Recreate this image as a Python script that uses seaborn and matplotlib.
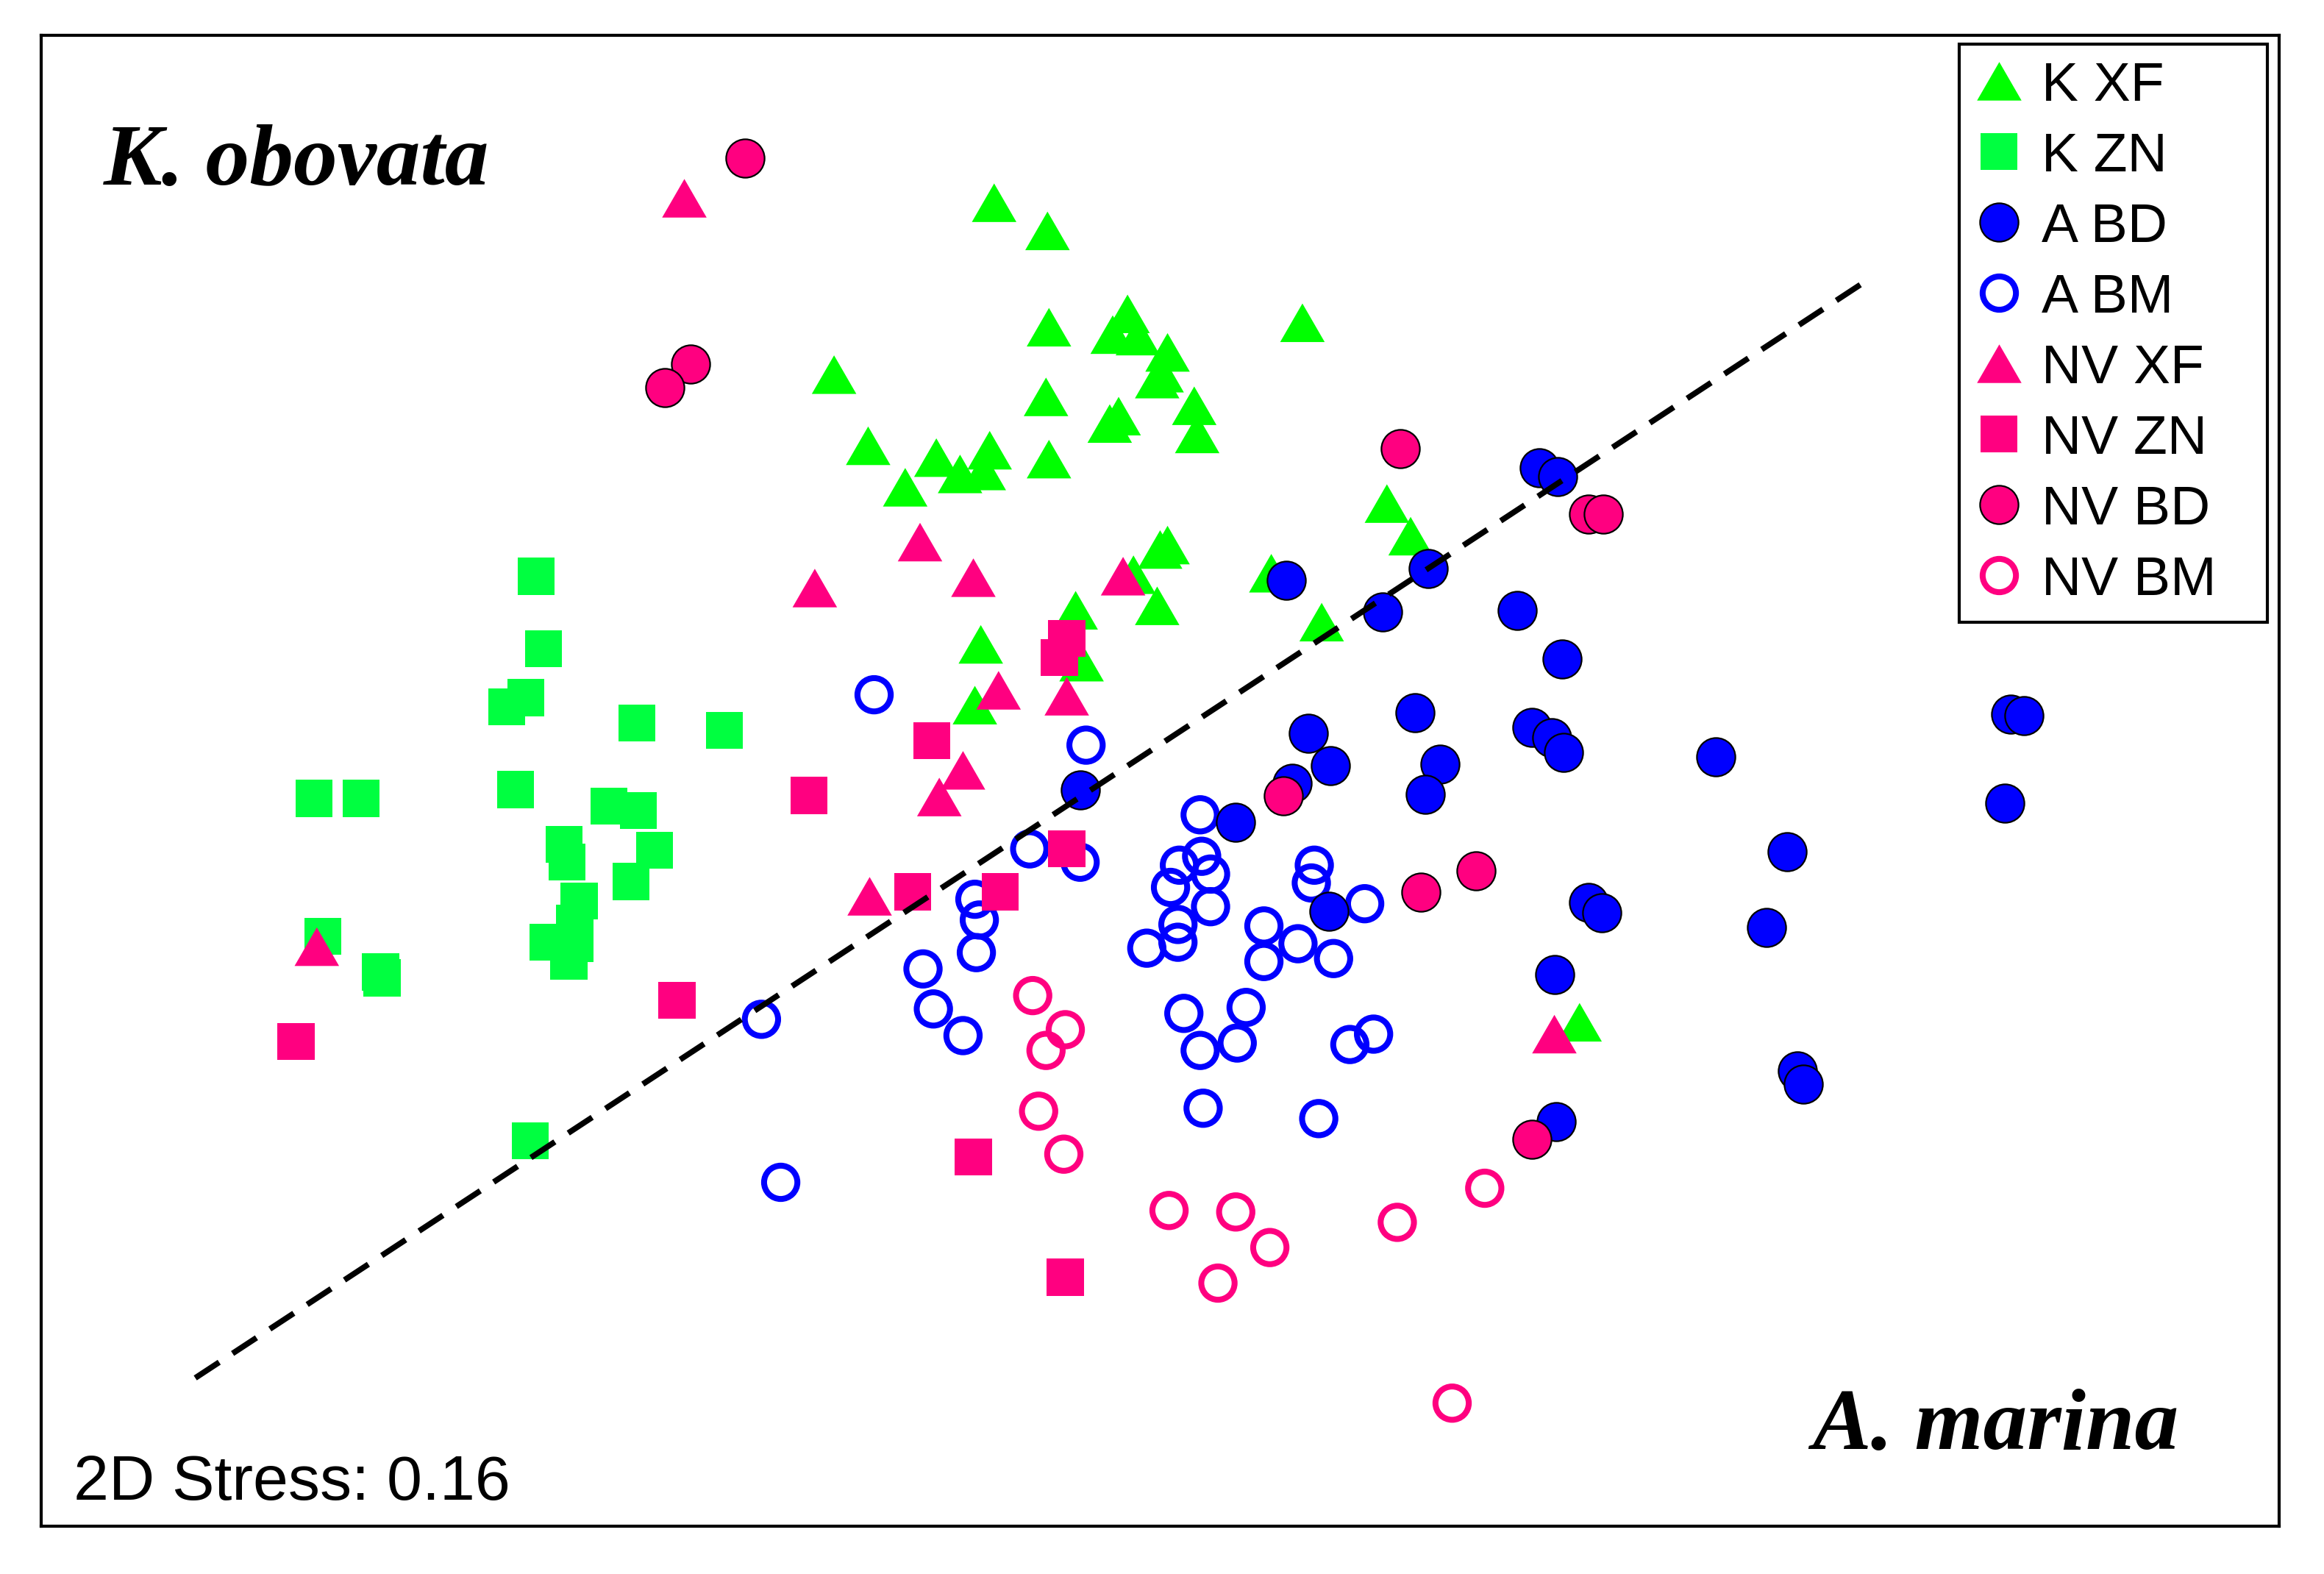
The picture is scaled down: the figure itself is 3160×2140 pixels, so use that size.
import numpy as np
import pandas as pd
import matplotlib
matplotlib.use('Agg')
import matplotlib.pyplot as plt
from matplotlib.lines import Line2D
import seaborn as sns

# NMDS coordinates (arbitrary units, axis 2 runs downwards)
kxf_x = [671, 707, 708, 761, 751, 768, 788, 781, 784, 879, 563, 706, 755, 749, 806, 808, 586, 632,
         648, 668, 664, 611, 708, 788, 783, 765, 781, 858, 726, 662, 730, 892, 936, 952, 1066, 658]
kxf_y = [137, 156, 221, 212, 226, 227, 238, 256, 252, 218, 253, 268, 281, 286, 274, 293, 301, 309,
         320, 304, 318, 329, 310, 368, 371, 388, 409, 387, 412, 435, 447, 420, 340, 362, 690, 476]

kzn_x = [362, 367, 342, 355, 430, 489, 212, 244, 348, 411, 431, 381, 383, 442, 426, 391, 388, 370,
         384, 388, 218, 257, 258, 358]
kzn_y = [389, 438, 477, 471, 488, 493, 539, 539, 533, 544, 547, 570, 582, 574, 595, 608, 623, 636,
         649, 637, 632, 656, 660, 770]

abd_x = [1039, 1051, 868, 964, 933, 1024, 1054, 955, 883, 898, 872, 972, 962, 1034, 1047, 1055,
         1158, 1357, 1366, 1353, 1206, 1072, 1081, 1192, 897, 1049, 1213, 1217, 1050, 834, 729]
abd_y = [316, 322, 392, 384, 413, 412, 445, 481, 495, 517, 529, 516, 536, 491, 498, 508,
         511, 482, 483, 542, 575, 609, 616, 626, 615, 658, 723, 732, 757, 555, 533]

abm_x = [590, 733, 695, 729, 810, 658, 661, 659, 623, 630, 650, 811, 796, 817, 790, 817, 795, 795,
         774, 887, 885, 921, 853, 876, 853, 900, 799, 841, 810, 835, 911, 927, 812, 890, 514, 527]
abm_y = [469, 503, 573, 582, 550, 607, 621, 643, 654, 681, 699, 578, 584, 590, 599, 612, 624, 636,
         640, 584, 596, 610, 625, 637, 649, 647, 684, 680, 709, 704, 705, 698, 748, 755, 688, 798]

nvxf_x = [462, 621, 657, 550, 758, 674, 720, 650, 634, 587, 214, 1049]
nvxf_y = [134, 366, 390, 397, 389, 466, 470, 520, 538, 605, 639, 698]

nvzn_x = [720, 715, 629, 546, 720, 675, 616, 457, 200, 657, 719]
nvzn_y = [431, 444, 500, 537, 573, 602, 602, 675, 703, 781, 862]

nvbd_x = [503, 466, 449, 945, 1072, 1082, 866, 959, 996, 1034]
nvbd_y = [107, 246, 262, 303, 347, 347, 537, 602, 588, 769]

nvbm_x = [697, 719, 706, 701, 718, 789, 834, 857, 822, 943, 1002, 980]
nvbm_y = [672, 695, 709, 750, 779, 817, 818, 842, 866, 825, 802, 947]

# separating line between the two species
split_x = [132, 1262]
split_y = [930, 188]

groups = ['K XF', 'K ZN', 'A BD', 'A BM', 'NV XF', 'NV ZN', 'NV BD', 'NV BM']
xs = [kxf_x, kzn_x, abd_x, abm_x, nvxf_x, nvzn_x, nvbd_x, nvbm_x]
ys = [kxf_y, kzn_y, abd_y, abm_y, nvxf_y, nvzn_y, nvbd_y, nvbm_y]

df = pd.concat([pd.DataFrame({'NMDS1': x, 'NMDS2': y, 'grupo': g})
                for g, x, y in zip(groups, xs, ys)], ignore_index=True)

GREEN = '#00FF00'
GREEN2 = '#00FF40'
BLUE = '#0000FF'
PINK = '#FF0080'
tri = [(-1, -0.866), (1, -0.866), (0, 0.866)]

# marker, size (pt), face, edge, edge width
estilos = {
    'K XF': (tri, 21.8, GREEN, 'none', 0),
    'K ZN': ('s', 18.1, GREEN2, 'none', 0),
    'A BD': ('o', 18.8, BLUE, 'black', 0.8),
    'A BM': ('o', 16.3, 'none', BLUE, 2.9),
    'NV XF': (tri, 21.8, PINK, 'none', 0),
    'NV ZN': ('s', 18.1, PINK, 'none', 0),
    'NV BD': ('o', 18.8, PINK, 'black', 0.8),
    'NV BM': ('o', 16.3, 'none', PINK, 2.9),
}

sns.set_style('white')
plt.rcParams['font.family'] = ['Liberation Sans', 'DejaVu Sans']
plt.rcParams['text.color'] = 'black'

fig = plt.figure(figsize=(15.8, 10.7), dpi=200)
ax = fig.add_axes([0.0177, 0.0304, 0.963, 0.9472])

# ordem de desenho: circulos abertos de A por baixo dos cheios
ordem = ['K XF', 'K ZN', 'A BM', 'A BD', 'NV XF', 'NV ZN', 'NV BD', 'NV BM']
for g in ordem:
    m, sz, fc, ec, lw = estilos[g]
    sub = df[df['grupo'] == g]
    sns.scatterplot(data=sub, x='NMDS1', y='NMDS2', marker=m, s=sz ** 2,
                    facecolor=fc, edgecolor=ec, linewidth=lw, ax=ax, legend=False, zorder=3)

ax.plot(split_x, split_y, color='black', linewidth=2.8, dashes=(5, 2.8), zorder=4)

ax.set_xlim(28, 1538)
ax.set_ylim(1030, 24)
ax.set_xticks([])
ax.set_yticks([])
ax.set_xlabel('')
ax.set_ylabel('')
for sp in ax.spines.values():
    sp.set_visible(True)
    sp.set_color('black')
    sp.set_linewidth(1.5)

# legenda
handles = []
for g in groups:
    m, sz, fc, ec, lw = estilos[g]
    handles.append(Line2D([], [], linestyle='none', marker=m, markersize=sz,
                          markerfacecolor=fc, markeredgecolor=ec, markeredgewidth=lw))
leg = ax.legend(handles, groups, loc='upper left', bbox_to_anchor=(0.857, 0.5, 0.1377, 0.494),
                mode='expand', frameon=True, fancybox=False, edgecolor='black', framealpha=1,
                fontsize=27, handlelength=0.85, handletextpad=0.35, borderpad=0.3,
                labelspacing=0.36, borderaxespad=0)
leg.get_frame().set_linewidth(1.5)
leg.set_zorder(10)

ax.text(0.0278, 0.8996, 'K. obovata', transform=ax.transAxes, fontsize=43,
        family='Liberation Serif', style='italic', weight='bold', va='baseline', ha='left')
ax.text(0.955, 0.0517, 'A. marina', transform=ax.transAxes, fontsize=43,
        family='Liberation Serif', style='italic', weight='bold', va='baseline', ha='right')
ax.text(0.0146, 0.0179, '2D Stress: 0.16', transform=ax.transAxes, fontsize=31,
        va='baseline', ha='left')

fig.savefig('out.png', dpi=200, facecolor='white')
